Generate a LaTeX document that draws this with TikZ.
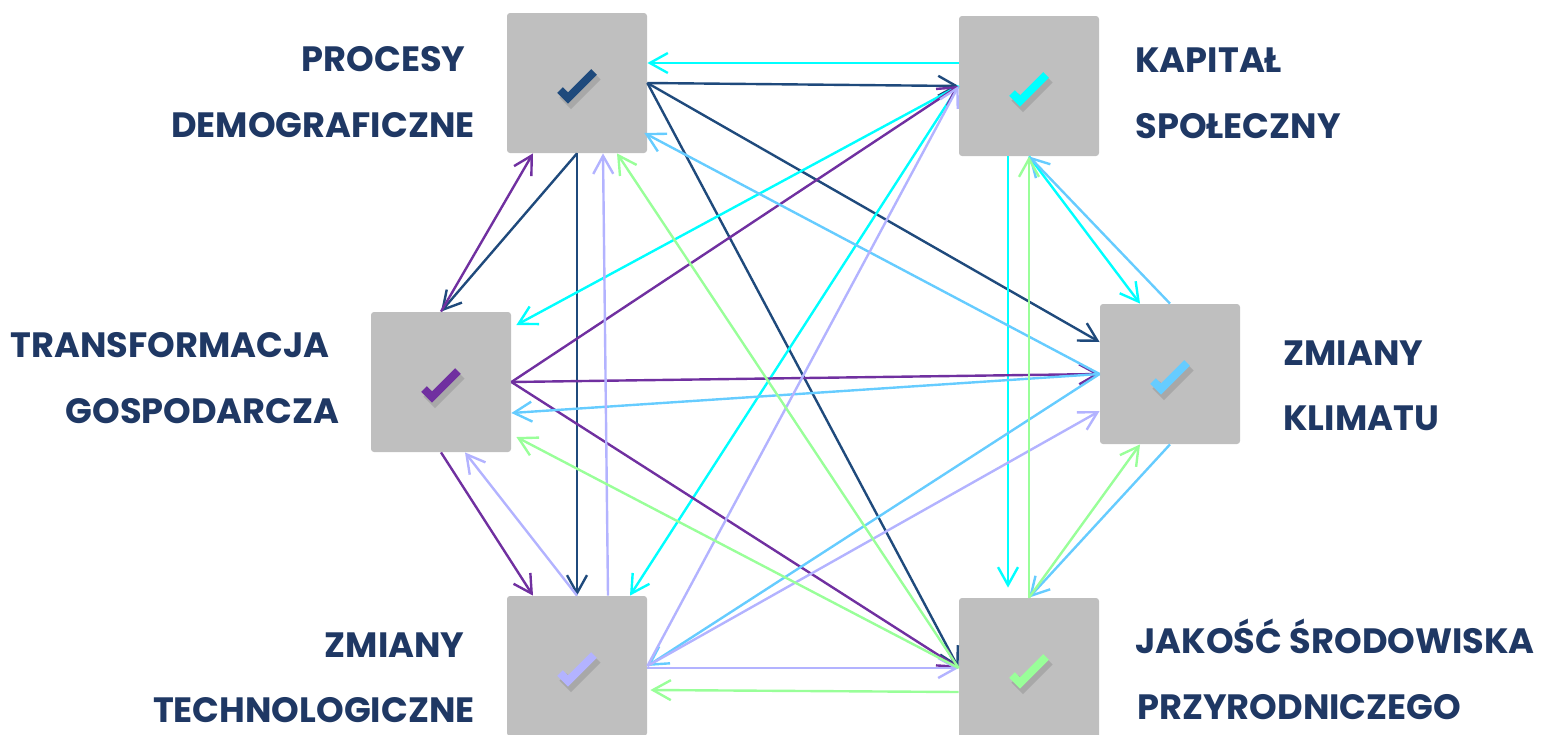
\documentclass[tikz,border=0pt]{standalone}
\usepackage{fontspec}
\setmainfont{Poppins}
\usetikzlibrary{arrows.meta,calc}

\definecolor{navy}{HTML}{1F3864}
\definecolor{boxgray}{HTML}{BFBFBF}
\definecolor{cPD}{HTML}{1F4A7C}
\definecolor{cKS}{HTML}{00FFFF}
\definecolor{cTG}{HTML}{7030A0}
\definecolor{cZK}{HTML}{66CCFF}
\definecolor{cZT}{HTML}{B3B3FF}
\definecolor{cJSP}{HTML}{99FF99}

\begin{document}
\begin{tikzpicture}[x=0.5pt,y=-0.5pt,
	box/.style={fill=boxgray, rounded corners=1.5pt, minimum width=70pt, minimum height=70pt, inner sep=0pt},
	lbl/.style={text=navy, font=\bfseries\fontsize{17.6}{20}\selectfont, inner sep=0pt},
	rel/.style={line width=1.2pt, -{Straight Barb[length=9pt,width=10pt]}},
	tick/.style={line width=4pt, line join=miter,
		preaction={draw=black!45, opacity=0.45, line width=5pt, transform canvas={shift={(1.5pt,-2pt)}}}}]

	\useasboundingbox (0,0) rectangle (1542,734);

	\node[box] (pd) at (577,83) {};
	\node[box] (ks) at (1029,86) {};
	\node[box] (tg) at (441,382) {};
	\node[box] (zk) at (1170,374) {};
	\node[box] (zt) at (577,666) {};
	\node[box] (jsp) at (1029,668) {};

	\draw[tick, cPD] ($(pd)+(-17,7)$) -- ++(8,8) -- ++(26,-26);
	\draw[tick, cKS] ($(ks)+(-17,7)$) -- ++(8,8) -- ++(26,-26);
	\draw[tick, cTG] ($(tg)+(-17,7)$) -- ++(8,8) -- ++(26,-26);
	\draw[tick, cZK] ($(zk)+(-17,7)$) -- ++(8,8) -- ++(26,-26);
	\draw[tick, cZT] ($(zt)+(-17,7)$) -- ++(8,8) -- ++(26,-26);
	\draw[tick, cJSP] ($(jsp)+(-17,7)$) -- ++(8,8) -- ++(26,-26);

	\node[lbl, anchor=base east] (pdt1) at (466,71) {PROCESY};
	\node[lbl, anchor=base east] (pdt2) at (475,137) {DEMOGRAFICZNE};
	\node[lbl, anchor=base west] (kst1) at (1135,72) {KAPITAŁ};
	\node[lbl, anchor=base west] (kst2) at (1135,138) {SPOŁECZNY};
	\node[lbl, anchor=base east] (tgt1) at (330,357) {TRANSFORMACJA};
	\node[lbl, anchor=base east] (tgt2) at (340,423) {GOSPODARCZA};
	\node[lbl, anchor=base west] (zkt1) at (1283,365) {ZMIANY};
	\node[lbl, anchor=base west] (zkt2) at (1283,430) {KLIMATU};
	\node[lbl, anchor=base east] (ztt1) at (465,657) {ZMIANY};
	\node[lbl, anchor=base east] (ztt2) at (475,722) {TECHNOLOGICZNE};
	\node[lbl, anchor=base west] (jspt1) at (1135,653) {JAKOŚĆ ŚRODOWISKA};
	\node[lbl, anchor=base west] (jspt2) at (1137,719) {PRZYRODNICZEGO};

	% procesy demograficzne
	\draw[rel, cPD] (pd.east) -- (ks.west);
	\draw[rel, cPD] (pd.east) -- ($(zk.west)+(0,-32)$);
	\draw[rel, cPD] (pd.east) -- (jsp.west);
	\draw[rel, cPD] (pd.south) -- (tg.north);
	\draw[rel, cPD] (pd.south) -- (zt.north);

	% kapital spoleczny
	\draw[rel, cKS] ($(ks.west)+(0,-23)$) -- ($(pd.east)+(0,-20)$);
	\draw[rel, cKS] (ks.west) -- ($(tg.east)+(5,-57)$);
	\draw[rel, cKS] (ks.west) -- ($(zt.north)+(53,0)$);
	\draw[rel, cKS] (ks.south) -- ($(zk.north)+(-30,0)$);
	\draw[rel, cKS] ($(ks.south)+(-21,0)$) -- ($(jsp.north)+(-21,-10)$);

	% transformacja gospodarcza
	\draw[rel, cTG] (tg.east) -- (ks.west);
	\draw[rel, cTG] (tg.east) -- (zk.west);
	\draw[rel, cTG] (tg.east) -- (jsp.west);
	\draw[rel, cTG] (tg.north) -- ($(pd.south)+(-44,0)$);
	\draw[rel, cTG] (tg.south) -- ($(zt.north)+(-44,0)$);

	% zmiany klimatu
	\draw[rel, cZK] (zk.west) -- ($(pd.east)+(-3,50)$);
	\draw[rel, cZK] (zk.west) -- ($(tg.east)+(0,31)$);
	\draw[rel, cZK] (zk.west) -- (zt.east);
	\draw[rel, cZK] (zk.north) -- (ks.south);
	\draw[rel, cZK] (zk.south) -- (jsp.north);

	% zmiany technologiczne
	\draw[rel, cZT] (zt.north) -- ($(tg.south)+(24,0)$);
	\draw[rel, cZT] ($(zt.north)+(31,0)$) -- ($(pd.south)+(26,0)$);
	\draw[rel, cZT] (zt.east) -- (ks.west);
	\draw[rel, cZT] (zt.east) -- ($(zk.west)+(0,37)$);
	\draw[rel, cZT] ($(zt.east)+(0,2)$) -- (jsp.west);

	% jakosc srodowiska
	\draw[rel, cJSP] (jsp.west) -- ($(pd.south)+(40,0)$);
	\draw[rel, cJSP] (jsp.west) -- ($(tg.east)+(5,55)$);
	\draw[rel, cJSP] ($(jsp.west)+(0,24)$) -- ($(zt.east)+(3,24)$);
	\draw[rel, cJSP] (jsp.north) -- (ks.south);
	\draw[rel, cJSP] (jsp.north) -- ($(zk.south)+(-30,0)$);

\end{tikzpicture}
\end{document}
